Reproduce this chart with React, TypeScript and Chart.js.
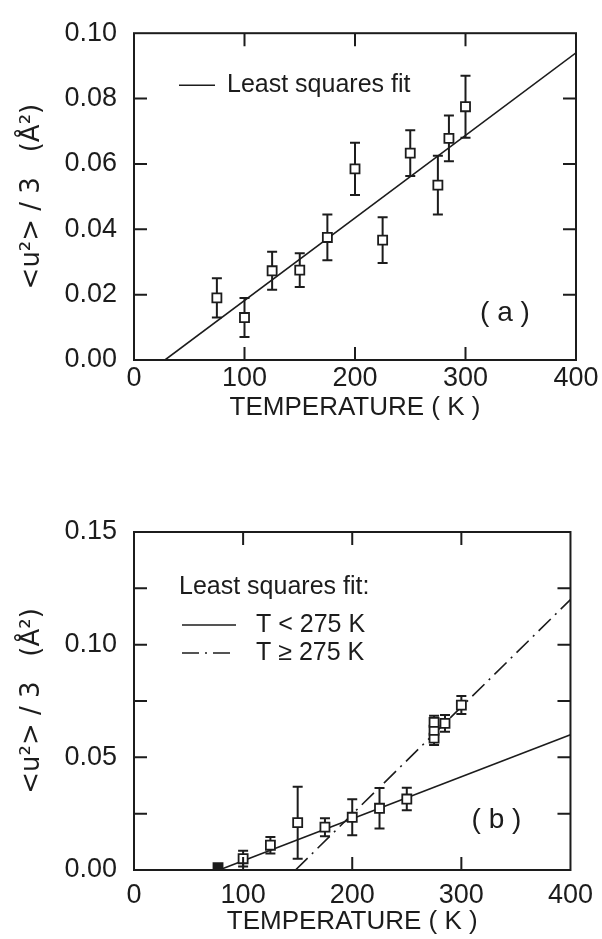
import React, { useEffect, useRef } from "react";
import { Chart, registerables } from "chart.js";

Chart.register(...registerables);

const INK = "#1c1c1c";
const FONT = "'Liberation Sans', Arial, sans-serif";
const TITLE_FONT = "'DejaVu Sans', 'Liberation Sans', sans-serif";

// ---------- Panel (a) ----------
const tempA = [75, 100, 125, 150, 175, 200, 225, 250, 275, 285, 300];
const msdA = [0.019, 0.013, 0.0273, 0.0275, 0.0375, 0.0585, 0.0367, 0.0633, 0.0535, 0.0678, 0.0775];
const errA = [0.006, 0.006, 0.0058, 0.0052, 0.007, 0.008, 0.007, 0.007, 0.009, 0.007, 0.0095];
const fitATemp = [28, 400];
const fitAVal = [0, 0.094];

// ---------- Panel (b) ----------
const tempB = [77, 100, 125, 150, 175, 200, 225, 250, 275, 275, 275, 285, 300];
const msdB = [0.001, 0.005, 0.011, 0.021, 0.019, 0.0234, 0.0274, 0.0315, 0.0585, 0.062, 0.0655, 0.0651, 0.0732];
const errB = [0.001, 0.0035, 0.0037, 0.016, 0.004, 0.008, 0.009, 0.005, 0.003, 0.003, 0.003, 0.0037, 0.004];
const fitLowTemp = [78, 400];
const fitLowVal = [0, 0.06];
const fitHighTemp = [148, 400];
const fitHighVal = [0, 0.12];

const xTickLabels = ["0", "100", "200", "300", "400"];
const yTicksA = [0, 0.02, 0.04, 0.06, 0.08, 0.1];
const yLabelsB = [0, 0.05, 0.1, 0.15];

const DASH_DOT = [17, 6, 2, 6];

const errorBars = {
  id: "errorBars",
  beforeDatasetsDraw(chart: any, _a: any, opts: any) {
    const ds = chart.data.datasets[0];
    const xs = chart.scales.x;
    const ys = chart.scales.y;
    const ctx = chart.ctx;
    const cap = opts.cap;
    ctx.save();
    ctx.strokeStyle = INK;
    ctx.lineWidth = opts.width;
    ds.data.forEach((p: any, i: number) => {
      const e = opts.errors[i];
      const px = xs.getPixelForValue(p.x);
      const y1 = ys.getPixelForValue(Math.max(0, p.y - e));
      const y2 = ys.getPixelForValue(p.y + e);
      ctx.beginPath();
      ctx.moveTo(px, y1);
      ctx.lineTo(px, y2);
      ctx.moveTo(px - cap, y1);
      ctx.lineTo(px + cap, y1);
      ctx.moveTo(px - cap, y2);
      ctx.lineTo(px + cap, y2);
      ctx.stroke();
    });
    ctx.restore();
  },
};

const frameTicks = {
  id: "frameTicks",
  afterDatasetsDraw(chart: any, _a: any, opts: any) {
    const { left, right, top, bottom } = chart.chartArea;
    const ctx = chart.ctx;
    const len = opts.len;
    const xs = chart.scales.x;
    const ys = chart.scales.y;
    ctx.save();
    ctx.strokeStyle = INK;
    ctx.lineWidth = 2;
    ctx.strokeRect(left, top, right - left, bottom - top);
    ctx.beginPath();
    xs.ticks.forEach((t: any) => {
      if (t.value <= xs.min || t.value >= xs.max) return;
      const px = xs.getPixelForValue(t.value);
      ctx.moveTo(px, bottom);
      ctx.lineTo(px, bottom - len);
      ctx.moveTo(px, top);
      ctx.lineTo(px, top + len);
    });
    ys.ticks.forEach((t: any) => {
      if (t.value <= ys.min + 1e-9 || t.value >= ys.max - 1e-9) return;
      const py = ys.getPixelForValue(t.value);
      ctx.moveTo(left, py);
      ctx.lineTo(left + len, py);
      ctx.moveTo(right, py);
      ctx.lineTo(right - len, py);
    });
    ctx.stroke();
    ctx.restore();
  },
};

const notes = {
  id: "notes",
  afterDraw(chart: any, _a: any, opts: any) {
    const { left, right, top, bottom } = chart.chartArea;
    const ctx = chart.ctx;
    ctx.save();
    ctx.fillStyle = INK;
    ctx.strokeStyle = INK;
    ctx.textBaseline = "middle";
    ctx.textAlign = "left";
    ctx.font = `${opts.size}px ${FONT}`;
    if (opts.header) {
      ctx.fillText(opts.header.text, left + opts.header.dx, top + opts.header.dy);
    }
    (opts.entries || []).forEach((e: any) => {
      const y = top + e.dy;
      const ds = chart.data.datasets[e.dataset];
      ctx.lineWidth = ds.borderWidth;
      ctx.setLineDash(ds.borderDash || []);
      ctx.beginPath();
      ctx.moveTo(left + e.x0, y);
      ctx.lineTo(left + e.x1, y);
      ctx.stroke();
      ctx.setLineDash([]);
      ctx.fillText(ds.label, left + e.tx, y);
    });
    ctx.font = `${opts.panelSize}px ${FONT}`;
    ctx.textAlign = "center";
    ctx.fillText(opts.panel.text, right - opts.panel.dx, bottom - opts.panel.dy);
    ctx.restore();
  },
};

function makeScales(cfg: any) {
  return {
    x: {
      type: "linear",
      min: 0,
      max: 400,
      grid: { display: false, drawTicks: false },
      border: { display: false },
      ticks: {
        stepSize: 100,
        padding: cfg.xTickPad,
        color: INK,
        maxRotation: 0,
        font: { family: FONT, size: 27 },
        callback: (v: number) => xTickLabels[Math.round(v / 100)] ?? "",
      },
      title: {
        display: true,
        text: "TEMPERATURE ( K )",
        color: INK,
        font: { family: FONT, size: 26 },
        padding: { top: 0, bottom: cfg.xTitlePad },
      },
      afterFit(s: any) {
        s.height = cfg.xHeight;
      },
    },
    y: {
      type: "linear",
      min: 0,
      max: cfg.yMax,
      grid: { display: false, drawTicks: false },
      border: { display: false },
      ticks: {
        stepSize: cfg.yStep,
        padding: 17,
        color: INK,
        font: { family: FONT, size: 27 },
        callback: cfg.yLabel,
      },
      title: {
        display: true,
        text: "<u²> / 3   (Å²)",
        color: INK,
        font: { family: TITLE_FONT, size: 26 },
        padding: { top: 17, bottom: 0 },
      },
      afterFit(s: any) {
        s.width = 134;
      },
    },
  };
}

function pts(ts: number[], vs: number[]) {
  return ts.map((t, i) => ({ x: t, y: vs[i] }));
}

function configA(): any {
  return {
    type: "scatter",
    data: {
      datasets: [
        {
          label: "data",
          data: pts(tempA, msdA),
          pointStyle: "rect",
          pointRadius: 6.4,
          pointBackgroundColor: "#ffffff",
          pointBorderColor: INK,
          pointBorderWidth: 1.8,
          showLine: false,
        },
        {
          label: "Least squares fit",
          data: pts(fitATemp, fitAVal),
          showLine: true,
          pointRadius: 0,
          borderColor: INK,
          borderWidth: 1.6,
          fill: false,
        },
      ],
    },
    options: {
      responsive: false,
      animation: false,
      devicePixelRatio: 1,
      layout: { padding: { left: 0, top: 20, right: 26, bottom: 0 } },
      plugins: {
        legend: { display: false },
        tooltip: { enabled: false },
        errorBars: { errors: errA, cap: 5, width: 2 },
        frameTicks: { len: 13 },
        notes: {
          size: 25,
          panelSize: 28,
          entries: [{ dataset: 1, x0: 45, x1: 81, tx: 93, dy: 52 }],
          panel: { text: "( a )", dx: 71, dy: 47 },
        },
      },
      scales: makeScales({
        xTickPad: 2,
        xTitlePad: 17,
        xHeight: 80,
        yMax: 0.1,
        yStep: 0.02,
        yLabel: (v: number) => {
          const hit = yTicksA.find((t) => Math.abs(t - v) < 1e-6);
          return hit === undefined ? "" : hit.toFixed(2);
        },
      }),
    },
    plugins: [errorBars, frameTicks, notes],
  };
}

function configB(): any {
  return {
    type: "scatter",
    data: {
      datasets: [
        {
          label: "data",
          data: pts(tempB, msdB),
          pointStyle: "rect",
          pointRadius: 6.4,
          pointBackgroundColor: tempB.map((_, i) => (i === 0 ? INK : "#ffffff")),
          pointBorderColor: INK,
          pointBorderWidth: 1.8,
          showLine: false,
        },
        {
          label: "T < 275 K",
          data: pts(fitLowTemp, fitLowVal),
          showLine: true,
          pointRadius: 0,
          borderColor: INK,
          borderWidth: 1.6,
          fill: false,
        },
        {
          label: "T ≥ 275 K",
          data: pts(fitHighTemp, fitHighVal),
          showLine: true,
          pointRadius: 0,
          borderColor: INK,
          borderWidth: 1.6,
          borderDash: DASH_DOT,
          fill: false,
        },
      ],
    },
    options: {
      responsive: false,
      animation: false,
      devicePixelRatio: 1,
      layout: { padding: { left: 0, top: 52, right: 26, bottom: 0 } },
      plugins: {
        legend: { display: false },
        tooltip: { enabled: false },
        errorBars: { errors: errB, cap: 5, width: 2 },
        frameTicks: { len: 13 },
        notes: {
          size: 25,
          panelSize: 28,
          header: { text: "Least squares fit:", dx: 45, dy: 55 },
          entries: [
            { dataset: 1, x0: 48, x1: 102, tx: 122, dy: 93 },
            { dataset: 2, x0: 48, x1: 102, tx: 122, dy: 121 },
          ],
          panel: { text: "( b )", dx: 74, dy: 50 },
        },
      },
      scales: makeScales({
        xTickPad: 9,
        xTitlePad: 2,
        xHeight: 69,
        yMax: 0.15,
        yStep: 0.025,
        yLabel: (v: number) => {
          const hit = yLabelsB.find((t) => Math.abs(t - v) < 1e-6);
          return hit === undefined ? "" : hit.toFixed(2);
        },
      }),
    },
    plugins: [errorBars, frameTicks, notes],
  };
}

function Panel(props: { top: number; height: number; make: () => any }) {
  const ref = useRef<HTMLCanvasElement | null>(null);
  useEffect(() => {
    if (!ref.current) return;
    const chart = new Chart(ref.current, props.make());
    return () => chart.destroy();
  }, []);
  return (
    <canvas
      ref={ref}
      width={602}
      height={props.height}
      style={{ position: "absolute", left: 0, top: props.top, width: 602, height: props.height, display: "block" }}
    />
  );
}

export default function App() {
  return (
    <div style={{ position: "absolute", left: 0, top: 0, width: 602, height: 939, background: "#ffffff", overflow: "hidden" }}>
      <Panel top={0} height={440} make={configA} />
      <Panel top={480} height={459} make={configB} />
    </div>
  );
}
